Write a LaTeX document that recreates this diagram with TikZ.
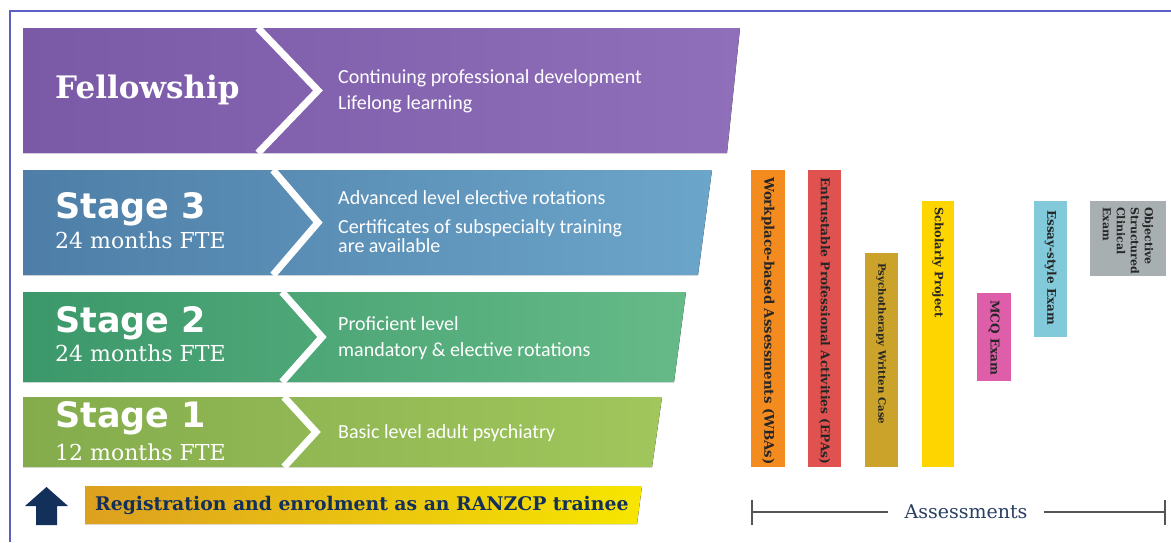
\documentclass[tikz,border=0pt]{standalone}
\usepackage{fontspec}
\setmainfont{Carlito}
\newfontfamily\slabfont{DejaVu Serif}
\newfontfamily\headfont{DejaVu Sans}
\usetikzlibrary{positioning}

\definecolor{fellowL}{HTML}{7A5AA7}
\definecolor{fellowR}{HTML}{8F6FB9}
\definecolor{stthreeL}{HTML}{4E7EA7}
\definecolor{stthreeR}{HTML}{6CA5CA}
\definecolor{sttwoL}{HTML}{3B986A}
\definecolor{sttwoR}{HTML}{66BA88}
\definecolor{stoneL}{HTML}{84AC4C}
\definecolor{stoneR}{HTML}{A0C65C}
\definecolor{regL}{HTML}{DDA020}
\definecolor{regR}{HTML}{F7E600}
\definecolor{navy}{HTML}{13305B}
\definecolor{frameblue}{HTML}{5B60C2}
\definecolor{wbaorange}{HTML}{F38B1F}
\definecolor{epared}{HTML}{E0524F}
\definecolor{caseolive}{HTML}{CBA22A}
\definecolor{projyellow}{HTML}{FFD500}
\definecolor{mcqpink}{HTML}{DF5EAA}
\definecolor{essayblue}{HTML}{82C9D9}
\definecolor{oscegray}{HTML}{A8AFB1}
\definecolor{bracketgray}{HTML}{555555}

\begin{document}
\begin{tikzpicture}[x=1pt,y=-1pt,
    chevron/.style={draw=white,line width=7pt,miter limit=10},
    stagename/.style={anchor=west,text=white,inner sep=0pt,
      font=\headfont\bfseries\fontsize{35}{35}\selectfont},
    months/.style={anchor=west,text=white,inner sep=0pt,
      font=\slabfont\fontsize{22}{22}\selectfont},
    desc/.style={anchor=west,text=white,align=left,inner sep=0pt},
    assess/.style={fill=#1,rotate=-90,anchor=west,inner sep=0pt},
    barlabel/.style={rotate=-90,anchor=west,inner xsep=7pt,inner ysep=0pt,
      align=left,text=black!85,font=\slabfont\bfseries\fontsize{#1}{14}\selectfont},
    barlabel/.default=12]
    \useasboundingbox (0,0) rectangle (1171,542);
    \fill[white] (0,0) rectangle (1171,542);
    \draw[frameblue,line width=1.5pt] (10,542) -- (10,11) -- (1171,11);

    % stage bands
    \fill[left color=fellowL,right color=fellowR] (23,28) -- (740,28) -- (727,153) -- (23,153) -- cycle;
    \draw[chevron] (258,28) -- (318,90.5) -- (258,153);
    \fill[left color=stthreeL,right color=stthreeR] (23,170) -- (712,170) -- (698,275) -- (23,275) -- cycle;
    \draw[chevron] (273,170) -- (318,222.5) -- (273,275);
    \fill[left color=sttwoL,right color=sttwoR] (23,292) -- (686,292) -- (674,382) -- (23,382) -- cycle;
    \draw[chevron] (282,292) -- (322,337) -- (282,382);
    \fill[left color=stoneL,right color=stoneR] (23,397) -- (662,397) -- (652,467) -- (23,467) -- cycle;
    \draw[chevron] (284,397) -- (316,432) -- (284,467);

    \node[stagename,font=\slabfont\bfseries\fontsize{31}{31}\selectfont] (fellow) at (55,90) {Fellowship};
    \node[desc,font=\fontsize{20}{26}\selectfont] (fellowdesc) at (338,91) {Continuing professional development\\Lifelong learning};

    \node[stagename] (stthree) at (55,209) {Stage 3};
    \node[months,below=31pt of stthree.west,anchor=west] (stthreetime) {24 months FTE};
    \node[desc,font=\fontsize{20}{19}\selectfont] (stthreedesc) at (338,222) {Advanced level elective rotations\\[10pt]Certificates of subspecialty training\\are available};

    \node[stagename] (sttwo) at (55,323) {Stage 2};
    \node[months,below=30pt of sttwo.west,anchor=west] (sttwotime) {24 months FTE};
    \node[desc,font=\fontsize{20}{26}\selectfont] (sttwodesc) at (338,338) {Proficient level\\mandatory \& elective rotations};

    \node[stagename] (stone) at (55,418) {Stage 1};
    \node[months,below=34pt of stone.west,anchor=west] (stonetime) {12 months FTE};
    \node[desc,font=\fontsize{20}{26}\selectfont] (stonedesc) at (338,433) {Basic level adult psychiatry};

    % registration
    \fill[navy] (46.5,487) -- (68,506) -- (57,506) -- (57,525) -- (36,525) -- (36,506) -- (25,506) -- cycle;
    \fill[left color=regL,right color=regR] (85,486) -- (642,486) -- (637,524) -- (85,524) -- cycle;
    \node[anchor=west,inner sep=0pt,text=navy,font=\slabfont\bfseries\fontsize{18.8}{18.8}\selectfont] (reg) at (95,505) {Registration and enrolment as an RANZCP trainee};

    % assessment bars
    \node[assess=wbaorange,minimum width=297pt,minimum height=34pt] (wba) at (768,170) {};
    \node[barlabel=13.3] at (wba.west) {Workplace-based Assessments (WBAs)};
    \node[assess=epared,minimum width=297pt,minimum height=33pt] (epa) at (824.5,170) {};
    \node[barlabel=12.2] at (epa.west) {Entrustable Professional Activities (EPAs)};
    \node[assess=caseolive,minimum width=214pt,minimum height=33pt] (wcase) at (881,253) {};
    \node[barlabel=10.2,inner xsep=10pt] at (wcase.west) {Psychotherapy Written Case};
    \node[assess=projyellow,minimum width=266pt,minimum height=32pt] (proj) at (938,201) {};
    \node[barlabel=11.5,inner xsep=6pt] at (proj.west) {Scholarly Project};
    \node[assess=mcqpink,minimum width=88pt,minimum height=34pt] (mcq) at (994,293) {};
    \node[barlabel=12.2] at (mcq.west) {MCQ Exam};
    \node[assess=essayblue,minimum width=136pt,minimum height=33pt] (essay) at (1050.5,201) {};
    \node[barlabel=12,inner xsep=9pt] at (essay.west) {Essay-style Exam};
    \node[assess=oscegray,minimum width=75pt,minimum height=76pt] (osce) at (1128,201) {};
    \node[barlabel=11,inner xsep=6pt] at (osce.west) {Objective\\Structured\\Clinical\\Exam};

    % bracket
    \coordinate (brl) at (752,512);
    \coordinate (brr) at (1165,512);
    \node[inner xsep=16pt,text=navy!80!gray,font=\slabfont\fontsize{19}{19}\selectfont] (asstext) at (966,512) {Assessments};
    \draw[bracketgray,line width=1.6pt] (brl) -- (asstext.west) (asstext.east) -- (brr);
    \draw[bracketgray,line width=1.6pt] (brl) ++(0,-12) -- ++(0,25) (brr) ++(0,-12) -- ++(0,25);
\end{tikzpicture}
\end{document}
